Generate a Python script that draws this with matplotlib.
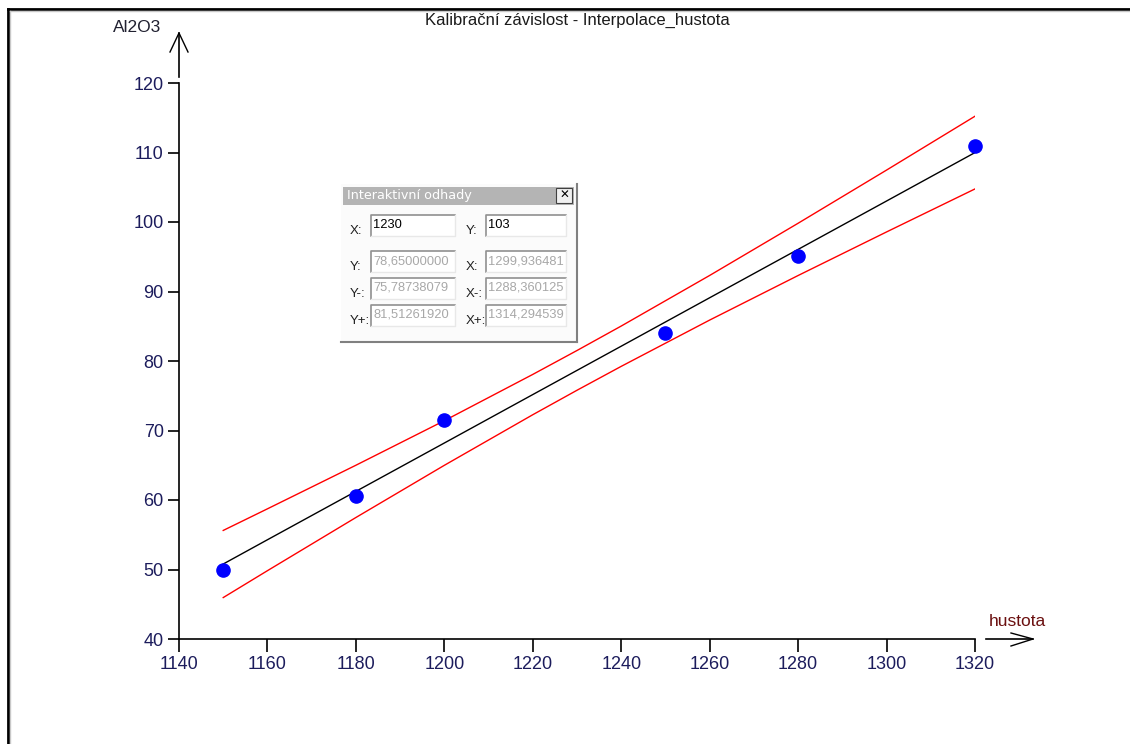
import matplotlib
matplotlib.use("Agg")
import matplotlib.pyplot as plt
import matplotlib.patches as patches
from matplotlib.lines import Line2D

plt.rcParams["font.family"] = ["Liberation Sans", "DejaVu Sans"]

W, H = 1130, 744

# measured points
x_pts = [1150, 1180, 1200, 1250, 1280, 1320]
y_pts = [50.0, 60.6, 71.5, 84.0, 95.1, 110.9]

# fitted line and band
x_fit = [1150, 1160, 1180, 1200, 1220, 1230, 1240, 1260, 1280, 1300, 1320]
y_fit = [50.79, 54.28, 61.24, 68.20, 75.17, 78.65, 82.13, 89.10, 96.06, 103.02, 109.99]
y_upper = [55.62, 58.73, 65.00, 71.41, 78.07, 81.51, 85.03, 92.31, 99.82, 107.47, 115.22]
y_lower = [45.96, 49.83, 57.48, 64.99, 72.27, 75.79, 79.23, 85.89, 92.30, 98.57, 104.76]

x_ticks = [1140, 1160, 1180, 1200, 1220, 1240, 1260, 1280, 1300, 1320]
y_ticks = [40, 50, 60, 70, 80, 90, 100, 110, 120]

title = "Kalibrační závislost - Interpolace_hustota"

# dialog contents
dlg_title = "Interaktivní odhady"
dlg_left = [("X:", "1230"), ("Y:", "78,65000000"), ("Y-:", "75,78738079"), ("Y+:", "81,51261920")]
dlg_right = [("Y:", "103"), ("X:", "1299,936481"), ("X-:", "1288,360125"), ("X+:", "1314,294539")]


def fx(x):
    return x / W


def fy(y):
    return 1 - y / H


fig = plt.figure(figsize=(11.3, 7.44), dpi=100)
ax = fig.add_axes([fx(179), fy(639), fx(975) - fx(179), fy(83) - fy(639)])

ax.plot(x_fit, y_upper, color="red", lw=1)
ax.plot(x_fit, y_lower, color="red", lw=1)
ax.plot(x_fit, y_fit, color="black", lw=1)
ax.plot(x_pts, y_pts, "o", color="#0000ff", markersize=9.5, zorder=5, clip_on=False)

ax.set_xlim(1140, 1320)
ax.set_ylim(40, 120)
ax.set_xticks(x_ticks)
ax.set_yticks(y_ticks)
for s in ["top", "right"]:
    ax.spines[s].set_visible(False)
for s in ["left", "bottom"]:
    ax.spines[s].set_linewidth(1.2)
ax.tick_params(axis="x", direction="out", length=9, width=1.2, pad=3,
               labelsize=13, labelcolor="#1c1c5c")
ax.tick_params(axis="y", direction="out", length=8, width=1.2, pad=3,
               labelsize=13, labelcolor="#1c1c5c")


def seg(xs, ys, **kw):
    fig.add_artist(Line2D([fx(v) for v in xs], [fy(v) for v in ys],
                          transform=fig.transFigure, **kw))


# axis arrows
seg([179, 179], [77, 33], color="black", lw=1.2)
seg([170, 179, 188], [52, 33, 52], color="black", lw=1)
seg([986, 1033], [639, 639], color="black", lw=1.2)
seg([1011, 1033, 1011], [633, 639, 646], color="black", lw=1)

fig.text(fx(137), fy(27), "Al2O3", fontsize=12.5, color="#202030", ha="center", va="center")
fig.text(fx(1017), fy(622), "hustota", fontsize=12.5, color="#6b1010", ha="center", va="center")
fig.text(fx(577), fy(20), title, fontsize=12, color="#1a1a1a", ha="center", va="center")

# window border
seg([8, 8], [9, 744], color="black", lw=2)
seg([8, 1130], [9, 9], color="black", lw=2)
seg([10, 1130], [11, 11], color="#c8c8c8", lw=1)
seg([10, 10], [11, 744], color="#c8c8c8", lw=1)


def rect(x0, y0, x1, y1, **kw):
    fig.add_artist(patches.Rectangle((fx(x0), fy(y1)), fx(x1) - fx(x0), fy(y0) - fy(y1),
                                     transform=fig.transFigure, **kw))


# dialog box
rect(341, 184, 577, 342, facecolor="#fbfbfb", edgecolor="none", zorder=10)
seg([577, 577], [184, 342], color="#808080", lw=1.5, zorder=11)
seg([341, 577], [342, 342], color="#808080", lw=1.5, zorder=11)
rect(343, 187, 574, 205, facecolor="#b4b4b4", edgecolor="none", zorder=11)
fig.text(fx(347), fy(196), dlg_title, fontsize=9.2, color="white", ha="left", va="center",
         family=["DejaVu Sans"], zorder=12)
rect(556, 188, 572, 203, facecolor="#f0f0f0", edgecolor="#404040", lw=0.8, zorder=12)
fig.text(fx(564), fy(195.5), "✕", fontsize=8.5, color="black", ha="center", va="center",
         family=["DejaVu Sans"], weight="bold", zorder=13)

rows_y = [226, 262, 289, 316]
for col, (lx, fx0, fx1, items) in enumerate([(350, 371, 455, dlg_left), (466, 486, 566, dlg_right)]):
    for i, (lab, val) in enumerate(items):
        yc = rows_y[i]
        top, bot = yc - 11, yc + 10
        rect(fx0, top, fx1, bot, facecolor="white", edgecolor="none", zorder=11)
        seg([fx0, fx0, fx1], [bot, top, top], color="#909090", lw=1.2, zorder=12)
        seg([fx0, fx1, fx1], [bot, bot, top], color="#e8e8e8", lw=1, zorder=12)
        active = i == 0
        fig.text(fx(fx0 + 2), fy(yc - 1), val, fontsize=9.3,
                 color="black" if active else "#a8a8a8", ha="left", va="center", zorder=13)
        fig.text(fx(lx), fy(yc + 5), lab, fontsize=9.5, color="#202020",
                 ha="left", va="center", zorder=13)

fig.savefig("out.png", dpi=100, facecolor="white")
